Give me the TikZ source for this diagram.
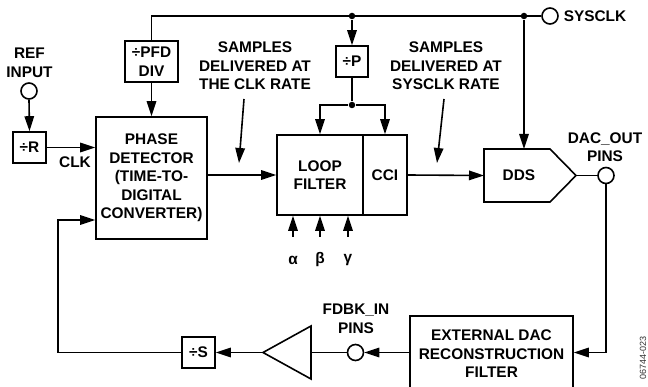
\documentclass[tikz,border=0pt]{standalone}
\usepackage{fontspec}
\setmainfont{Liberation Sans}
\usetikzlibrary{arrows.meta}
\begin{document}
\begin{tikzpicture}[x=1pt,y=-1pt,
  line width=1.6pt,
  every node/.style={font=\fontsize{15.4}{18.5}\selectfont\bfseries, inner sep=0pt, align=center},
  box/.style={draw, line width=1.6pt, inner sep=0pt},
  pin/.style={draw, circle, minimum size=16pt, inner sep=0pt, fill=white},
  dot/.style={circle, fill, minimum size=6.5pt, inner sep=0pt},
  arr/.style={-{Triangle[length=15pt,width=9.5pt]}}
]
\useasboundingbox (0,0) rectangle (648,387);

% boxes
\node[box, minimum width=33pt, minimum height=31pt] (R) at (29.5,147.5) {÷R};
\node[box, minimum width=53pt, minimum height=41pt] (pfd) at (151.5,61.5) {÷PFD\\DIV};
\node[box, minimum width=111pt, minimum height=122pt] (pd) at (151.5,178) {PHASE\\DETECTOR\\(TIME-TO-\\DIGITAL\\CONVERTER)};
\node[box, minimum width=32pt, minimum height=31pt] (P) at (352,61.5) {÷P};
\node[box, minimum width=86pt, minimum height=80pt] (lf) at (320,175) {LOOP\\FILTER};
\node[box, minimum width=44pt, minimum height=80pt] (cci) at (385,175) {CCI};
\node[box, minimum width=33pt, minimum height=31pt] (S) at (198.5,352.5) {÷S};
\node[box, minimum width=163pt, minimum height=76pt] (filt) at (491.5,354) {EXTERNAL DAC\\RECONSTRUCTION\\FILTER};

% DDS
\draw (484,149) -- (550,149) -- (576,175.5) -- (550,202) -- (484,202) -- cycle;
\node (dds) at (519,175.5) {DDS};
\coordinate (ddsin) at (484,175.5);
\coordinate (ddsout) at (576,175.5);
\coordinate (ddstop) at (524,149);

% amplifier
\draw (263,352.5) -- (311,326) -- (311,379) -- cycle;
\coordinate (ampin) at (311,352.5);
\coordinate (ampout) at (263,352.5);

% pins
\node[pin] (ref) at (29,91) {};
\node[pin] (sys) at (550,16) {};
\node[pin] (dac) at (606,175.5) {};
\node[pin] (fdbk) at (355.5,352.5) {};

% dots
\node[dot] (dP) at (352,16) {};
\node[dot] (dS) at (524,16) {};
\node[dot] (dP2) at (352,105) {};

% labels
\node (reftxt) at (29.5,63) {REF\\INPUT};
\node (clk) at (75,162) {CLK};
\node[anchor=west] (systxt) at (563,16.5) {SYSCLK};
\node (s1) at (255,66) {SAMPLES\\DELIVERED AT\\THE CLK RATE};
\node (s2) at (446,66) {SAMPLES\\DELIVERED AT\\SYSCLK RATE};
\node (dactxt) at (605,147) {DAC\_OUT\\PINS};
\node (fbtxt) at (356,319) {FDBK\_IN\\PINS};
\node (al) at (293,260) {α};
\node (be) at (320,260) {β};
\node (ga) at (348,260) {γ};
\node[rotate=90, anchor=base, font=\fontsize{9}{11}\selectfont, text=black!80] (fig) at (646,358) {06744-023};

% free ends
\coordinate (a1) at (293,237);
\coordinate (a2) at (320,237);
\coordinate (a3) at (348,237);
\coordinate (s1a) at (244,99);
\coordinate (s1b) at (239,163);
\coordinate (s2a) at (444,99);
\coordinate (s2b) at (437,163);
\coordinate (fbc) at (58,220);

% connectors
\draw (pfd.north) |- (sys.west);
\draw[arr] (pfd.south) -- (pd.north);
\draw[arr] (dP) -- (P.north);
\draw (P.south) -- (dP2);
\draw[arr] (dP2) -| (lf.north);
\draw[arr] (dP2) -| (cci.north);
\draw[arr] (dS) -- (ddstop);
\draw[arr] (ref.south) -- (R.north);
\draw[arr] (R.east) -- (R.east -| pd.west);
\draw[arr] (pd.east |- lf.west) -- (lf.west);
\draw[arr] (cci.east) -- (ddsin);
\draw (ddsout) -- (dac.west);
\draw[arr] (dac.south) |- (filt.east |- ampin);
\draw[arr] (filt.west |- ampin) -- (fdbk.east);
\draw (fdbk.west) -- (ampin);
\draw[arr] (ampout) -- (S.east);
\draw[arr] (S.west) -| (fbc) -- (fbc -| pd.west);
\draw[arr] (a1) -- (a1 |- lf.south);
\draw[arr] (a2) -- (a2 |- lf.south);
\draw[arr] (a3) -- (a3 |- lf.south);
\draw[arr] (s1a) -- (s1b);
\draw[arr] (s2a) -- (s2b);
\end{tikzpicture}
\end{document}
